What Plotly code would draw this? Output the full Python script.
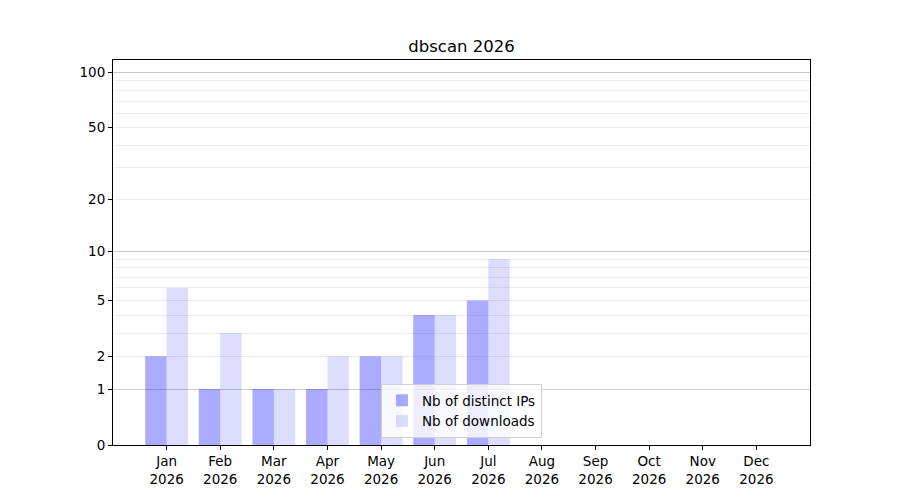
import numpy as np
import plotly.graph_objects as go

months = ["Jan", "Feb", "Mar", "Apr", "May", "Jun", "Jul", "Aug", "Sep", "Oct", "Nov", "Dec"]
year = "2026"
distinct_ips = [2, 1, 1, 1, 2, 4, 5, 0, 0, 0, 0, 0]
downloads = [6, 3, 1, 2, 2, 4, 9, 0, 0, 0, 0, 0]
ytick_labels = [0, 1, 2, 5, 10, 20, 50, 100]
minor_grid = [2, 3, 4, 5, 6, 7, 8, 9, 20, 30, 40, 50, 60, 70, 80, 90]
major_grid = [1, 10, 100]

cats = [f"{m}<br>{year}" for m in months]
FONT = "DejaVu Sans"

def tr(vals):
    # log10(1 + x) scale: plot 1 + x on a log axis
    return [1 + v for v in vals]

fig = go.Figure()
fig.add_trace(go.Bar(x=cats, y=list(distinct_ips), base=1,
                     name="Nb of distinct IPs",
                     marker=dict(color="rgba(0,0,255,0.33)", line=dict(width=0))))
fig.add_trace(go.Bar(x=cats, y=list(downloads), base=1,
                     name="Nb of downloads",
                     marker=dict(color="rgba(0,0,255,0.135)", line=dict(width=0))))

top = np.log10(118)
yr = [0, top]

# grid-only overlay axes
fig.add_trace(go.Scatter(x=[cats[0]], y=[1], yaxis="y2", showlegend=False,
                         mode="markers", marker=dict(opacity=0), hoverinfo="skip"))
fig.add_trace(go.Scatter(x=[cats[0]], y=[1], yaxis="y3", showlegend=False,
                         mode="markers", marker=dict(opacity=0), hoverinfo="skip"))

fig.update_layout(
    width=900, height=500,
    margin=dict(l=105, r=98, t=52, b=63),
    paper_bgcolor="white", plot_bgcolor="white",
    font=dict(family=FONT, size=13.5, color="black"),
    title=dict(text="dbscan 2026", x=0.5, xref="paper", xanchor="center",
               y=(500 - 38) / 500, yanchor="middle", yref="container",
               font=dict(family=FONT, size=16.5, color="black")),
    barmode="group", bargap=0.2, bargroupgap=0,
    showlegend=True,
    legend=dict(x=0.5, xanchor="center", y=0.018, yanchor="bottom",
                bgcolor="rgba(255,255,255,0.8)", bordercolor="#d0d0d0", borderwidth=1,
                font=dict(family=FONT, size=13.5), tracegroupgap=0, itemwidth=30),
    xaxis=dict(type="category", categoryorder="array", categoryarray=cats,
               range=[-1, 12], showgrid=False, showline=True, linecolor="black",
               linewidth=1, mirror=True, ticks="outside", ticklen=4,
               tickcolor="black", zeroline=False),
    yaxis=dict(type="log", range=yr, tickvals=tr(ytick_labels),
               ticktext=[str(v) for v in ytick_labels], showgrid=False,
               showline=True, linecolor="black", linewidth=1, mirror=True,
               ticks="outside", ticklen=4, tickcolor="black", zeroline=False),
    yaxis2=dict(type="log", range=yr, overlaying="y", tickvals=tr(minor_grid),
                showticklabels=False, ticks="", showgrid=True, gridcolor="#ececec",
                gridwidth=1, showline=False, zeroline=False),
    yaxis3=dict(type="log", range=yr, overlaying="y", tickvals=tr(major_grid),
                showticklabels=False, ticks="", showgrid=True, gridcolor="#cbcbcb",
                gridwidth=1, showline=False, zeroline=False),
)

fig.write_html("out.html")
